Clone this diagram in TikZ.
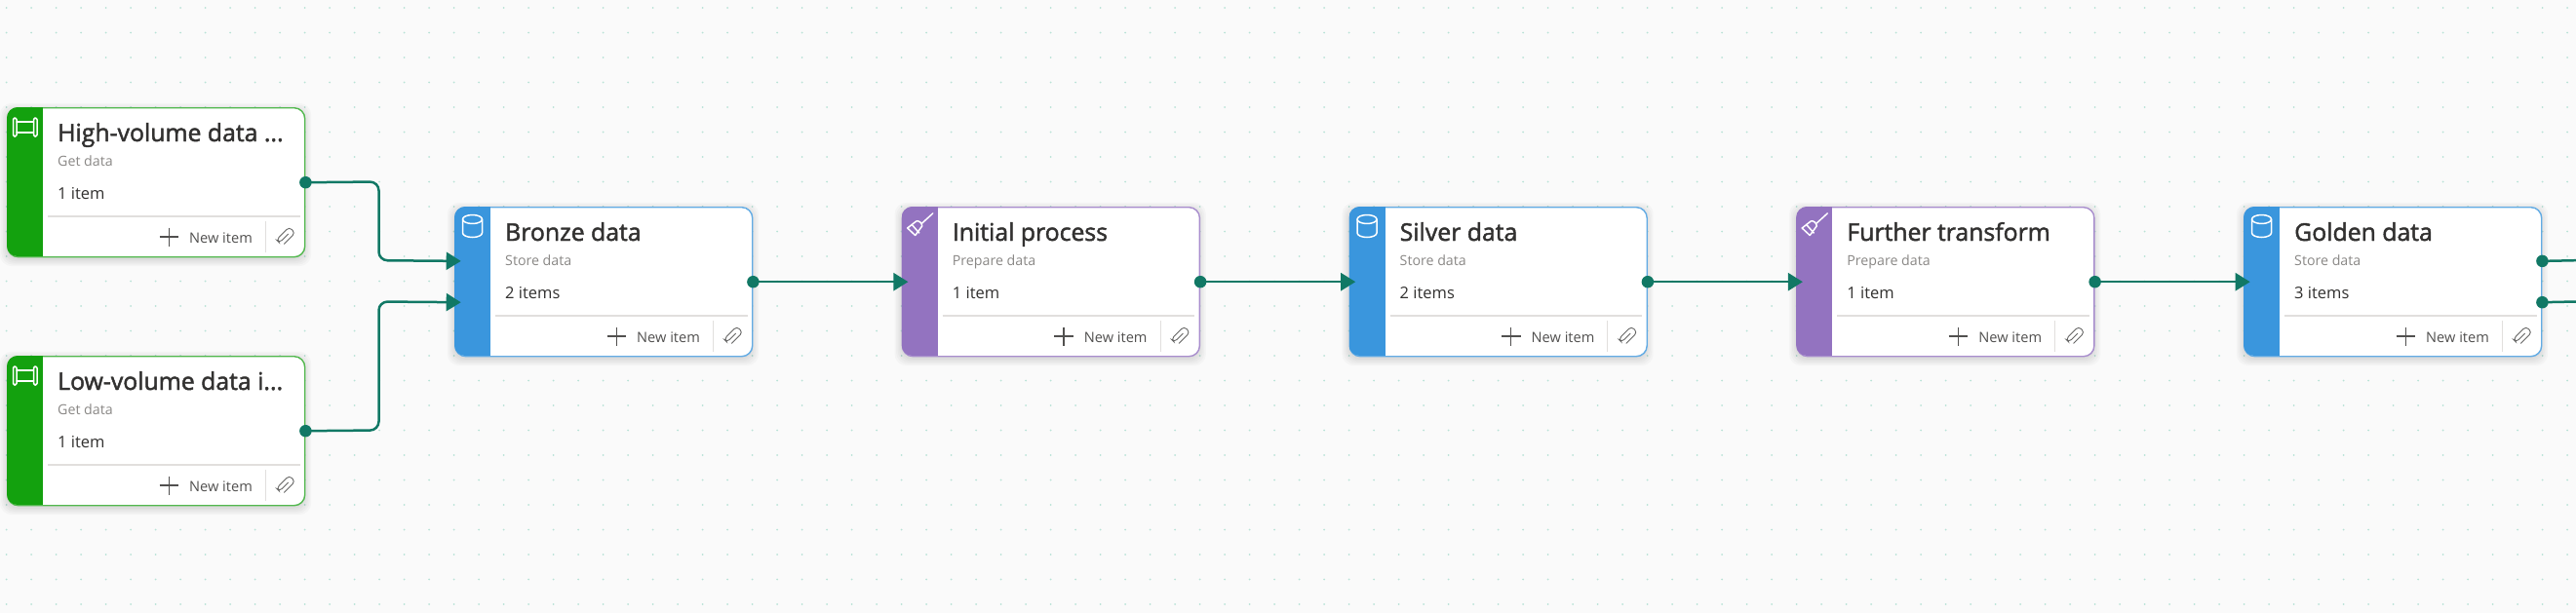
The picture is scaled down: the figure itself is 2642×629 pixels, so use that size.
\documentclass[tikz,border=0pt]{standalone}
\usepackage{fontspec}
\setmainfont{Open Sans}
\newfontfamily\titlefont[FakeBold=1.8]{Open Sans}
\usetikzlibrary{arrows.meta,calc}
\definecolor{pagebg}{HTML}{FAFAFA}
\definecolor{griddot}{HTML}{B8E2D6}
\definecolor{linkcol}{HTML}{117865}
\definecolor{ink}{HTML}{323130}
\definecolor{subink}{HTML}{8A8886}
\definecolor{rulecol}{HTML}{E1DFDD}
\definecolor{greenfill}{HTML}{13A10E}
\definecolor{greenedge}{HTML}{52B84E}
\definecolor{bluefill}{HTML}{3A96DD}
\definecolor{blueedge}{HTML}{62ABE4}
\definecolor{purplefill}{HTML}{9373C0}
\definecolor{purpleedge}{HTML}{A88DCD}
\tikzset{
  cardbox/.style={rectangle,rounded corners=11pt,fill=white,line width=1.4pt,minimum width=305pt,minimum height=153pt,inner sep=0pt,anchor=north west},
  titletext/.style={anchor=base west,inner sep=0pt,text=ink,font=\titlefont\fontsize{24.8}{24.8}\selectfont},
  subtext/.style={anchor=base west,inner sep=0pt,text=subink,font=\fontsize{14.2}{14.2}\selectfont},
  counttext/.style={anchor=base west,inner sep=0pt,text=ink,font=\fontsize{16.5}{16.5}\selectfont},
  newtext/.style={anchor=base west,inner sep=0pt,text=ink!85,font=\fontsize{14.6}{14.6}\selectfont},
  iconline/.style={draw=white,line width=1.5pt,line join=round,line cap=round},
  toolline/.style={draw=ink!85,line width=1.1pt},
  clipline/.style={draw=ink!75,line width=0.9pt,line cap=round},
  portdot/.style={circle,fill=linkcol,minimum size=12.5pt,inner sep=0pt},
  link/.style={draw=linkcol,line width=2.5pt,rounded corners=9pt},
  arrowlink/.style={link,-{Triangle[length=15pt,width=18pt]}},
}
\newcommand{\pipeicon}{%
  \draw[iconline,rounded corners=1.5pt] (6.5,11) rectangle (10,30);
  \draw[iconline,rounded corners=1.5pt] (27.5,11) rectangle (31,30);
  \draw[iconline] (10,15) -- (27.5,15) (10,26) -- (27.5,26);
}
\newcommand{\cylindericon}{%
  \draw[iconline] (18.5,13) ellipse (10pt and 4.5pt);
  \draw[iconline] (8.5,13) -- (8.5,27) arc[start angle=180,end angle=360,x radius=10pt,y radius=4.5pt] -- (28.5,13);
}
\newcommand{\broomicon}{%
  \draw[iconline] (32,7) -- (21,17);
  \draw[iconline] (6,22) -- (15,15) .. controls (18,14) and (21,17) .. (21,20) -- (14,29.5) -- cycle;
  \draw[iconline] (10.5,18.5) -- (18,27);
}
\newcommand{\clipicon}{%
  \begin{scope}[shift={(284.7,133.5)},rotate=-45]
    \draw[clipline,rounded corners=3.6pt] (0.4,-5) -- (0.4,7.5) -- (-4,7.5) -- (-4,-11) -- (4.6,-11) -- (4.6,5);
  \end{scope}
}
% name, x, y, fill, edge, icon, title, sub, count
\newcommand{\card}[9]{%
  \foreach \g in {9,7,5,3,1}{
    \fill[black,opacity=0.022,rounded corners=12pt] ({#2-\g*0.8},{#3+3-\g*0.8}) rectangle ({#2+305+\g*0.8},{#3+153+3+\g*0.8});
  }
  \node[cardbox,draw=#5] (#1) at (#2,#3) {};
  \begin{scope}
    \clip[rounded corners=11pt] (#2,#3) rectangle ({#2+305},{#3+153});
    \fill[#4] (#2,#3) rectangle ({#2+37},{#3+153});
  \end{scope}
  \begin{scope}[shift={(#2,#3)}]
    #6
    \node[titletext] (#1-title) at (52,35) {#7};
    \node[subtext] (#1-sub) at (52,60) {#8};
    \node[counttext] (#1-count) at (52,94) {#9};
    \draw[draw=rulecol,line width=1.3pt] (42,112) -- (300.5,112);
    \draw[draw=rulecol,line width=1pt] (265.3,117) -- (265.3,149);
    \draw[toolline] (156.5,133) -- (176,133) (166.3,123.5) -- (166.3,143);
    \node[newtext] (#1-new) at (187,139) {New item};
    \clipicon
  \end{scope}
}
\begin{document}
\begin{tikzpicture}[x=1pt,y=-1pt]
\useasboundingbox (0,0) rectangle (2642,629);
\fill[pagebg] (0,0) rectangle (2642,629);
\fill[griddot] foreach \i in {0,...,103} { foreach \j in {0,...,24} { ({6.7+25.5*\i},{8+25.5*\j}) circle (1pt) } };

\card{high}{7}{110}{greenfill}{greenedge}{\pipeicon}{High-volume data ...}{Get data}{1 item}
\card{low}{7}{365}{greenfill}{greenedge}{\pipeicon}{Low-volume data i...}{Get data}{1 item}
\card{bronze}{466}{212}{bluefill}{blueedge}{\cylindericon}{Bronze data}{Store data}{2 items}
\card{initial}{924.7}{212}{purplefill}{purpleedge}{\broomicon}{Initial process}{Prepare data}{1 item}
\card{silver}{1383.5}{212}{bluefill}{blueedge}{\cylindericon}{Silver data}{Store data}{2 items}
\card{further}{1842.2}{212}{purplefill}{purpleedge}{\broomicon}{Further transform}{Prepare data}{1 item}
\card{golden}{2301}{212}{bluefill}{blueedge}{\cylindericon}{Golden data}{Store data}{3 items}

\node[portdot] (highout) at (high.east) {};
\node[portdot] (lowout) at (low.east) {};
\node[portdot] (bronzeout) at (bronze.east) {};
\node[portdot] (initialout) at (initial.east) {};
\node[portdot] (silverout) at (silver.east) {};
\node[portdot] (furtherout) at (further.east) {};
\node[portdot] (goldenouta) at ($(golden.east)+(0,-21.3)$) {};
\node[portdot] (goldenoutb) at ($(golden.east)+(0,21)$) {};

\coordinate (bronzeina) at ($(bronze.west)+(6.7,-21.3)$);
\coordinate (bronzeinb) at ($(bronze.west)+(6.7,21)$);
\coordinate (initialin) at ($(initial.west)+(6.7,0)$);
\coordinate (silverin) at ($(silver.west)+(6.7,0)$);
\coordinate (furtherin) at ($(further.west)+(6.7,0)$);
\coordinate (goldenin) at ($(golden.west)+(6.7,0)$);
\coordinate (edgea) at (2642,267.2);
\coordinate (edgeb) at (2642,309.5);

\draw[arrowlink] (highout.center) -- (388.5,186.5) -- (388.5,267.2) -- (bronzeina);
\draw[arrowlink] (lowout.center) -- (388.5,441.5) -- (388.5,309.5) -- (bronzeinb);
\draw[arrowlink] (bronzeout.center) -- (initialin);
\draw[arrowlink] (initialout.center) -- (silverin);
\draw[arrowlink] (silverout.center) -- (furtherin);
\draw[arrowlink] (furtherout.center) -- (goldenin);
\draw[link] (goldenouta.center) -- (edgea);
\draw[link] (goldenoutb.center) -- (edgeb);
\end{tikzpicture}
\end{document}
